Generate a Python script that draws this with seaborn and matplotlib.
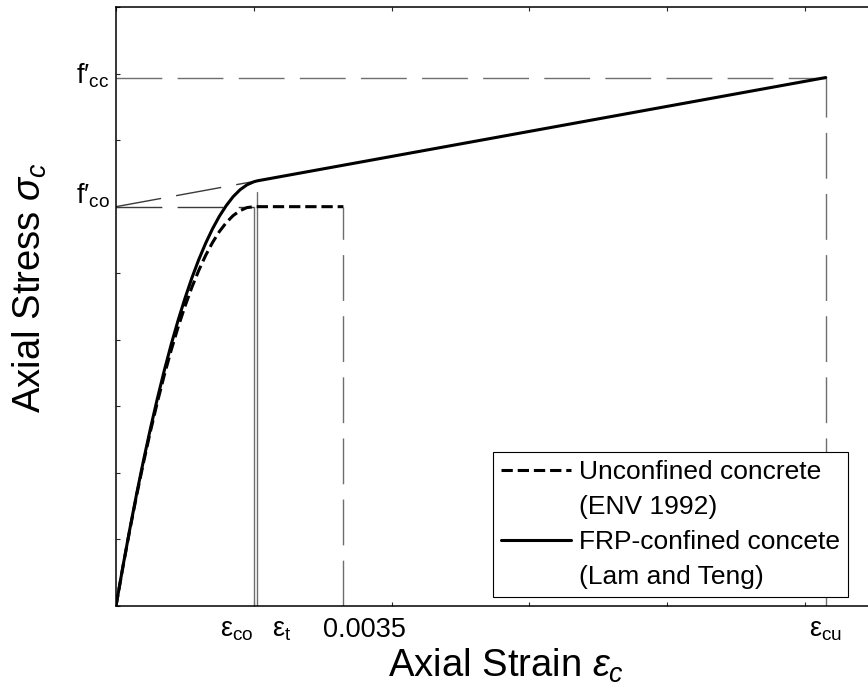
import matplotlib
matplotlib.use("Agg")
import matplotlib.pyplot as plt
import seaborn as sns
from matplotlib.lines import Line2D

# values (strain on x, stress in MPa on y)
strain_unconf = [0.0, 0.0001, 0.0002, 0.0003, 0.0004, 0.0005, 0.0006, 0.0007,
                 0.0008, 0.0009, 0.0010, 0.0011, 0.0012, 0.0013, 0.0014,
                 0.0015, 0.0016, 0.0017, 0.0018, 0.0019, 0.0020, 0.0033]
stress_unconf = [0.0, 2.93, 5.70, 8.33, 10.80, 13.13, 15.30, 17.33, 19.20,
                 20.93, 22.50, 23.93, 25.20, 26.33, 27.30, 28.13, 28.80,
                 29.33, 29.70, 29.93, 30.0, 30.0]

strain_conf = [0.0, 0.0001, 0.0002, 0.0003, 0.0004, 0.0005, 0.0006, 0.0007,
               0.0008, 0.0009, 0.0010, 0.0011, 0.0012, 0.0013, 0.0014,
               0.0015, 0.0016, 0.0017, 0.0018, 0.0019, 0.0020, 0.00205, 0.0103]
stress_conf = [0.0, 2.96, 5.77, 8.44, 10.96, 13.34, 15.58, 17.68, 19.63,
               21.44, 23.10, 24.63, 26.01, 27.24, 28.33, 29.28, 30.08, 30.75,
               31.27, 31.64, 31.87, 31.94, 39.7]

fco = 30.0
fcc = 39.7
stress_t = 31.94
eps_co = 0.002
eps_t = 0.00205
eps_35 = 0.0033
eps_cu = 0.0103
eps_t_top = 31.1

x_ticks = [0.0, 0.002, 0.004, 0.006, 0.008, 0.010]
y_ticks = [0, 5, 10, 15, 20, 25, 30, 35, 40, 45]

legend_labels = ["Unconfined concrete", "(ENV 1992)",
                 "FRP-confined concete", "(Lam and Teng)"]

sns.set_style("white")
plt.rcParams["font.family"] = ["Liberation Sans", "DejaVu Sans"]
plt.rcParams["mathtext.fontset"] = "custom"
plt.rcParams["mathtext.rm"] = "Liberation Sans"
plt.rcParams["mathtext.it"] = "Liberation Sans:italic"
plt.rcParams["text.color"] = "black"
plt.rcParams["axes.labelcolor"] = "black"

fig = plt.figure(figsize=(8.68, 6.96), dpi=100)
ax = fig.add_axes([116 / 868, 90 / 696, 758 / 868, 599 / 696])

# thin guide lines
guide = "#6e6e6e"
dark = "#3a3a3a"
long_dash = (33, 11)
ax.plot([0, eps_cu], [fcc, fcc], color=guide, lw=1, dashes=long_dash)
ax.plot([eps_cu, eps_cu], [0, fcc], color=guide, lw=1, dashes=long_dash)
ax.plot([0, eps_co], [fco, fco], color=dark, lw=1, dashes=long_dash)
ax.plot([0, eps_t], [fco, stress_t], color=dark, lw=1, dashes=long_dash)
ax.plot([eps_35, eps_35], [0, fco], color=guide, lw=1, dashes=long_dash)
ax.plot([eps_co, eps_co], [0, fco], color=guide, lw=1)
ax.plot([eps_t, eps_t], [0, eps_t_top], color=guide, lw=1)

# main curves
sns.lineplot(x=strain_unconf, y=stress_unconf, ax=ax, color="black",
             lw=2.2, linestyle="--", sort=False, estimator=None)
sns.lineplot(x=strain_conf, y=stress_conf, ax=ax, color="black",
             lw=2.2, sort=False, estimator=None)

ax.set_xlim(0, 0.011)
ax.set_ylim(0, 45)
ax.set_xticks(x_ticks)
ax.set_yticks(y_ticks)
ax.set_xticklabels([])
ax.set_yticklabels([])
ax.tick_params(axis="x", direction="in", length=3, width=0.8, top=True, bottom=True)
ax.tick_params(axis="y", direction="in", length=3, width=0.8, left=True, right=True)
for s in ax.spines.values():
    s.set_color("black")
    s.set_linewidth(1.1)

# strain labels under the axis
tick_fs = 19.5
for xpos, txt in [(0.00175, r"$\mathrm{\varepsilon_{co}}$"),
                  (0.00241, r"$\mathrm{\varepsilon_{t}}$"),
                  (0.00361, "0.0035"),
                  (0.0103, r"$\mathrm{\varepsilon_{cu}}$")]:
    ax.annotate(txt, xy=(xpos, 0), xycoords=("data", "axes fraction"),
                xytext=(0, -22.3), textcoords="offset points",
                ha="center", va="baseline", fontsize=tick_fs)

# stress labels left of the axis
ax.annotate("$\\mathrm{f\u2032_{cc}}$", xy=(0, fcc), xycoords="data",
            xytext=(-4.5, -4.5), textcoords="offset points",
            ha="right", va="baseline", fontsize=tick_fs)
ax.annotate("$\\mathrm{f\u2032_{co}}$", xy=(0, fco), xycoords="data",
            xytext=(-4.5, 2.2), textcoords="offset points",
            ha="right", va="baseline", fontsize=tick_fs)

ax.set_xlabel(r"Axial Strain $\varepsilon_c$", fontsize=27.5)
ax.xaxis.set_label_coords(0.5145, -0.068)
ax.set_ylabel(r"Axial Stress $\sigma_c$", fontsize=27.5)
ax.yaxis.set_label_coords(-0.088, 0.531)

handles = [Line2D([], [], color="black", lw=2.2, ls="--"),
           Line2D([], [], color="none"),
           Line2D([], [], color="black", lw=2.2),
           Line2D([], [], color="none")]
leg = ax.legend(handles, legend_labels, loc="lower right",
                bbox_to_anchor=(0.9657, 0.015), borderaxespad=0,
                fontsize=19, handlelength=2.65, handletextpad=0.3,
                labelspacing=0.42, borderpad=0.3, frameon=True,
                fancybox=False, framealpha=1, edgecolor="black")
leg.get_frame().set_linewidth(0.8)

fig.savefig("out.png", dpi=100)
